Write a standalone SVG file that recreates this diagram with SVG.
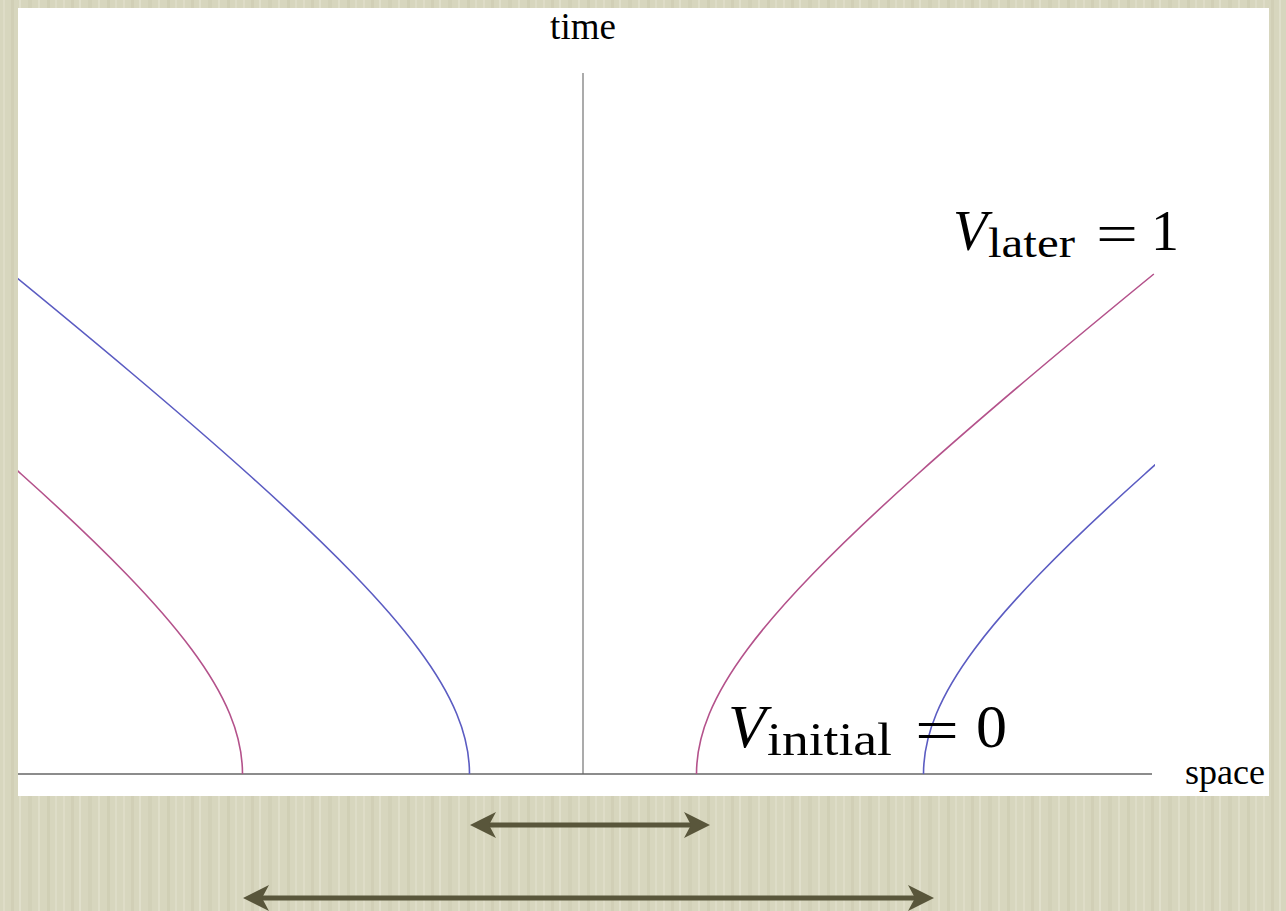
<svg xmlns="http://www.w3.org/2000/svg" width="1286" height="911" viewBox="0 0 1286 911">
  <style>
    .axis { stroke: #666666; fill: none; }
    .wl { fill: none; stroke-width: 1.6; }
    .mag { stroke: #b4528b; }
    .blu { stroke: #5b5cc2; }
    .arr { stroke: #59563b; stroke-width: 5; fill: none; marker-start: url(#ah); marker-end: url(#ah); }
    .lbl { font-family: "Liberation Serif", "Times New Roman", serif; fill: #000000; }
  </style>
  <defs>
    <pattern id="tex" width="60" height="911" patternUnits="userSpaceOnUse">
      <rect width="60" height="911" fill="#d7d6be"/>
      <rect x="3" width="2" height="911" fill="#dedcc7"/>
      <rect x="11" width="3" height="911" fill="#d1cfb6"/>
      <rect x="19" width="2" height="911" fill="#e0dfcb"/>
      <rect x="28" width="4" height="911" fill="#d2d1b8"/>
      <rect x="38" width="2" height="911" fill="#dfdec9"/>
      <rect x="47" width="3" height="911" fill="#d0cfb5"/>
      <rect x="55" width="2" height="911" fill="#dddcc7"/>
    </pattern>
    <clipPath id="plot">
      <rect x="18" y="8" width="1137" height="788"/>
    </clipPath>
    <path id="hyp" d="M0,774 C0,754 4.46,734 12.73,714 C21.68,692.33 35.01,670.67 51.13,649 C69.74,624 92,599 116.2,574 C148.47,540.67 184.17,507.33 221.35,474 C258.53,440.67 297.26,407.33 336.77,374 C376.28,340.67 416.6,307.33 457.35,274"/>
    <marker id="ah" viewBox="-28 -14 36 28" refX="0" refY="0" markerWidth="36" markerHeight="28" markerUnits="userSpaceOnUse" orient="auto-start-reverse">
      <path d="M6,0 L-20,-13 L-13,0 L-20,13 Z" fill="#59563b"/>
    </marker>
  </defs>

  <rect id="background" x="0" y="0" width="1286" height="911" fill="url(#tex)"/>
  <rect id="panel" x="18" y="8" width="1251" height="788" fill="#ffffff"/>

  <g id="axes">
    <line class="axis" x1="18" y1="774" x2="1152" y2="774" stroke-width="1.6"/>
    <line class="axis" x1="583" y1="73" x2="583" y2="774" stroke-width="1.1"/>
    <text class="lbl" x="583" y="39" font-size="37" text-anchor="middle">time</text>
    <text class="lbl" x="1185" y="784" font-size="36">space</text>
  </g>

  <g id="worldlines" clip-path="url(#plot)">
    <use href="#hyp" class="wl mag" transform="translate(696.5,0)"/>
    <use href="#hyp" class="wl blu" transform="translate(923.5,0)"/>
    <use href="#hyp" class="wl blu" transform="translate(469.5,0) scale(-1,1)"/>
    <use href="#hyp" class="wl mag" transform="translate(242.5,0) scale(-1,1)"/>
  </g>

  <g id="label-later">
    <text class="lbl" x="953" y="250" font-size="56" font-style="italic">V</text>
    <text class="lbl" x="988" y="257" font-size="42" textLength="87" lengthAdjust="spacingAndGlyphs">later</text>
    <text class="lbl" x="1096" y="253" font-size="56" textLength="42" lengthAdjust="spacingAndGlyphs">=</text>
    <text class="lbl" x="1151" y="250" font-size="56">1</text>
  </g>

  <g id="label-initial">
    <text class="lbl" x="728" y="747" font-size="62" font-style="italic">V</text>
    <text class="lbl" x="767" y="755" font-size="46" textLength="125" lengthAdjust="spacingAndGlyphs">initial</text>
    <text class="lbl" x="915" y="751" font-size="62" textLength="44" lengthAdjust="spacingAndGlyphs">=</text>
    <text class="lbl" x="976" y="747" font-size="62">0</text>
  </g>

  <g id="connectors">
    <line class="arr" x1="476" y1="825" x2="704" y2="825"/>
    <line class="arr" x1="249" y1="898" x2="928" y2="898"/>
  </g>
</svg>
